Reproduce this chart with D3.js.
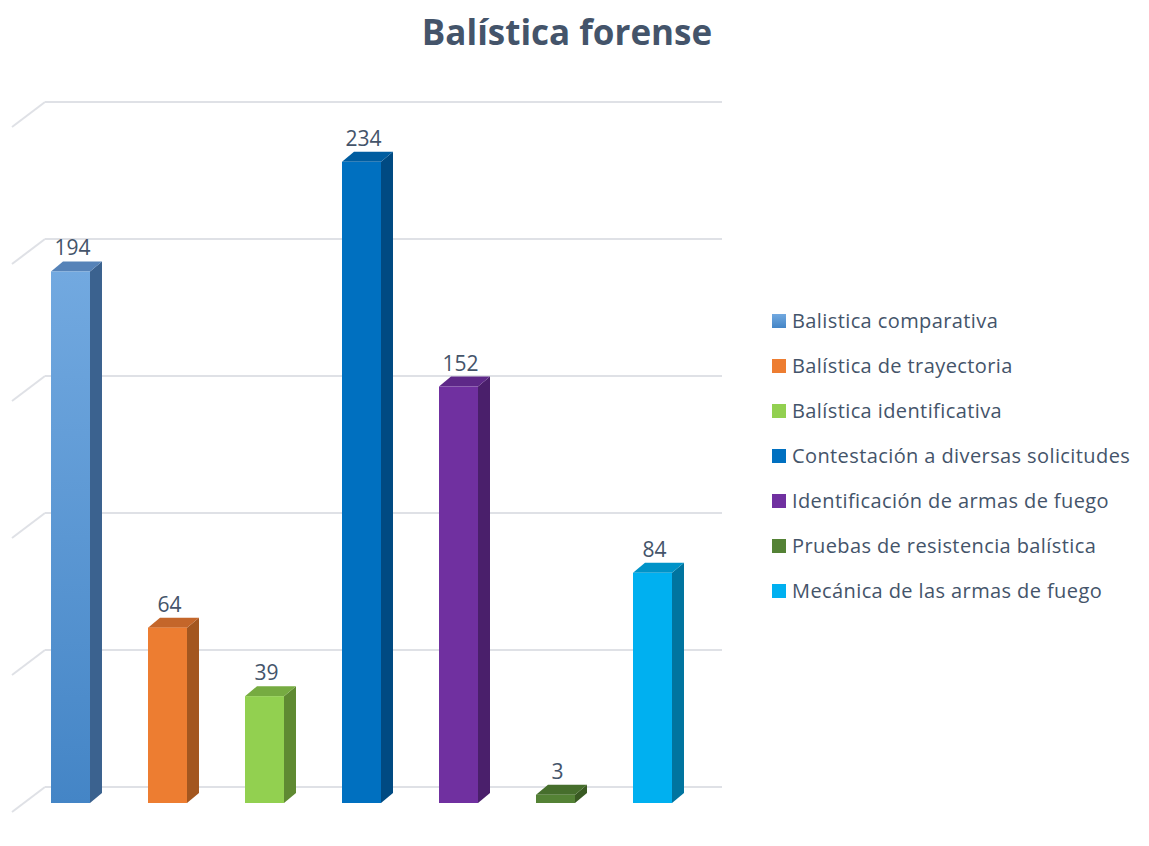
<!DOCTYPE html>
<html><head><meta charset="utf-8">
<script src="https://cdn.jsdelivr.net/npm/d3@7"></script>
<style>body{margin:0;background:#fff}svg{display:block}</style>
</head><body><svg id="c" width="1149" height="846"></svg>
<script>
const categories = ["Balistica comparativa","Balística de trayectoria","Balística identificativa","Contestación a diversas solicitudes","Identificación de armas de fuego","Pruebas de resistencia balística","Mecánica de las armas de fuego"];
const values = [194, 64, 39, 234, 152, 3, 84];
const frontColors = ["#5b9bd5","#ed7d31","#92d050","#0070c0","#7030a0","#548235","#00b0f0"];
const sideColors = ["#3b628f","#a3561f","#5f8a32","#004a82","#4a1f6b","#395a22","#00749f"];
const topColors = ["#5683b8","#c4662a","#76ab41","#005da0","#5e2888","#466e2c","#0093c8"];
const gridTicks = [0, 50, 100, 150, 200, 250];
const title = "Balística forense";

const svg = d3.select("#c");
const font = "'Open Sans', sans-serif";
const textColor = "#44546a";
const dx = 12, dy = 10;

const x = d3.scaleBand().domain(categories).range([2.5, 720.5]).paddingInner(0.598).paddingOuter(0.5);
const y = d3.scaleLinear().domain([0, 250]).range([803, 118]);

const defs = svg.append("defs");
const g0 = defs.append("linearGradient").attr("id","g0").attr("x1",0).attr("y1",0).attr("x2",0).attr("y2",1);
g0.append("stop").attr("offset","0%").attr("stop-color","#72a9e0");
g0.append("stop").attr("offset","100%").attr("stop-color","#4485c6");

// title
svg.append("text").attr("x", 567).attr("y", 45).attr("text-anchor","middle")
  .attr("font-family", font).attr("font-weight", "bold").attr("font-size", 35)
  .attr("fill", textColor).text(title);

// gridlines (back wall) + diagonal floor ticks
const grid = svg.append("g");
gridTicks.forEach(t => {
  const yb = y(t) - 16;
  grid.append("line").attr("x1", 45).attr("x2", 722).attr("y1", yb).attr("y2", yb)
    .attr("stroke", "#dfe1e6").attr("stroke-width", 2);
  grid.append("line").attr("x1", 12).attr("x2", 45).attr("y1", yb + 25).attr("y2", yb)
    .attr("stroke", "#dfe1e6").attr("stroke-width", 2);
});

// bars
const bars = svg.append("g");
categories.forEach((c, i) => {
  const x0 = x(c), w = x.bandwidth();
  const yt = y(values[i]), yb = y(0);
  bars.append("path").attr("d", `M${x0+w},${yt} L${x0+w+dx},${yt-dy} L${x0+w+dx},${yb-dy} L${x0+w},${yb} Z`)
    .attr("fill", sideColors[i]);
  bars.append("path").attr("d", `M${x0},${yt} L${x0+dx},${yt-dy} L${x0+w+dx},${yt-dy} L${x0+w},${yt} Z`)
    .attr("fill", topColors[i]);
  bars.append("rect").attr("x", x0).attr("y", yt).attr("width", w).attr("height", yb - yt)
    .attr("fill", i === 0 ? "url(#g0)" : frontColors[i]);
  bars.append("text").attr("x", x0 + w/2 + 2).attr("y", yt - 16).attr("text-anchor","middle")
    .attr("font-family", font).attr("font-size", 21).attr("fill", textColor).text(values[i]);
});

// legend
const leg = svg.append("g");
categories.forEach((c, i) => {
  const cy = 321 + i * 45;
  leg.append("rect").attr("x", 772).attr("y", cy - 7).attr("width", 14).attr("height", 14)
    .attr("fill", i === 0 ? "url(#g0)" : frontColors[i]);
  leg.append("text").attr("x", 792).attr("y", cy + 7).attr("font-family", font)
    .attr("font-size", 20).attr("letter-spacing", 0.4).attr("fill", textColor).text(c);
});
</script></body></html>
